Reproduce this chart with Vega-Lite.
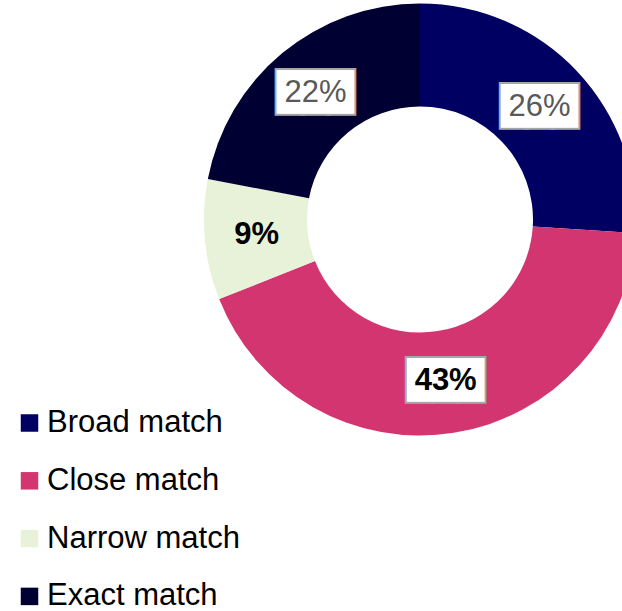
{
  "$schema": "https://vega.github.io/schema/vega-lite/v6.json",
  "width": 400,
  "height": 439,
  "autosize": {"type": "none"},
  "padding": {"left": 220, "top": 0, "right": 2, "bottom": 172},
  "background": "white",
  "config": {"view": {"stroke": null}},
  "data": {"values": [
    {"match": "Broad match", "share": 0.26},
    {"match": "Close match", "share": 0.43},
    {"match": "Narrow match", "share": 0.09},
    {"match": "Exact match", "share": 0.22}
  ]},
  "transform": [{"window": [{"op": "row_number", "as": "rank"}]}],
  "encoding": {
    "theta": {"field": "share", "type": "quantitative", "stack": true},
    "order": {"field": "rank", "type": "quantitative"}
  },
  "layer": [
    {
      "mark": {"type": "arc", "outerRadius": 216, "innerRadius": 113},
      "encoding": {
        "color": {
          "field": "match",
          "type": "nominal",
          "scale": {
            "domain": ["Broad match", "Close match", "Narrow match", "Exact match"],
            "range": ["#000063", "#d23570", "#e8f2d8", "#000033"]
          },
          "legend": {
            "orient": "none",
            "legendX": -206,
            "legendY": 407.5,
            "title": null,
            "symbolType": "square",
            "symbolSize": 306,
            "symbolStrokeWidth": 0,
            "labelFont": "Liberation Sans",
            "labelFontSize": 31,
            "labelColor": "black",
            "labelOffset": 2,
            "labelLimit": 400,
            "rowPadding": 25.8,
            "padding": 0
          }
        }
      }
    },
    {
      "mark": {"type": "text", "radius": 164, "dy": -3.5, "font": "DejaVu Sans Mono", "fontSize": 42.5, "text": "▇▇▇", "fill": "#a6a6a6", "stroke": "#a6a6a6", "strokeWidth": 4, "strokeJoin": "miter", "align": "center", "baseline": "middle"},
      "encoding": {"opacity": {"condition": {"test": "datum.match === 'Narrow match'", "value": 0}, "value": 1}}
    },
    {
      "mark": {"type": "text", "radius": 164, "dy": -3.5, "font": "DejaVu Sans Mono", "fontSize": 42.5, "text": "▇▇▇", "fill": "white", "align": "center", "baseline": "middle"},
      "encoding": {"opacity": {"condition": {"test": "datum.match === 'Narrow match'", "value": 0}, "value": 1}}
    },
    {
      "mark": {"type": "text", "radius": 164, "font": "Liberation Sans", "fontSize": 31, "fill": "#595959", "align": "center", "baseline": "middle"},
      "encoding": {
        "text": {"field": "share", "type": "quantitative", "format": ".0%"},
        "opacity": {"condition": {"test": "datum.match === 'Broad match' || datum.match === 'Exact match'", "value": 1}, "value": 0}
      }
    },
    {
      "mark": {"type": "text", "radius": 164, "font": "Liberation Sans", "fontSize": 31, "fontWeight": "bold", "fill": "black", "align": "center", "baseline": "middle"},
      "encoding": {
        "text": {"field": "share", "type": "quantitative", "format": ".0%"},
        "opacity": {"condition": {"test": "datum.match === 'Close match' || datum.match === 'Narrow match'", "value": 1}, "value": 0}
      }
    }
  ]
}
